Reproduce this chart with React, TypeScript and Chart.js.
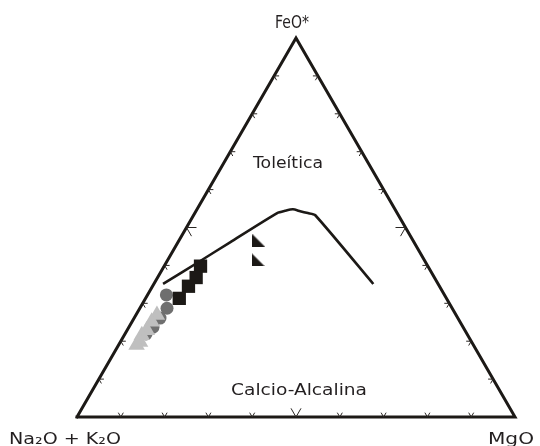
import { useEffect, useRef } from 'react';
import { Chart, registerables } from 'chart.js';

Chart.register(...registerables);

// Vertex and field labels
const vertexLabels = ['Na₂O + K₂O', 'FeO*', 'MgO'];
const fieldLabels = ['Toleítica', 'Calcio-Alcalina'];
const tickPercents = [10, 20, 30, 40, 50, 60, 70, 80, 90];

// Tholeiitic / calc-alkaline boundary (A = Na2O+K2O, F = FeO*, M = MgO, %)
const boundaryA = [62.8, 51.4, 42.0, 27.4, 25.3, 23.3, 21.9, 20.4, 19.0, 14.8];
const boundaryF = [35.1, 41.1, 46.1, 53.8, 54.4, 54.8, 54.3, 53.8, 53.3, 35.1];
const boundaryM = [2.1, 7.5, 11.9, 18.8, 20.3, 21.9, 23.8, 25.8, 27.7, 50.1];

// Black squares
const squaresA = [51.9, 54.4, 57.3, 61.0];
const squaresF = [39.8, 36.8, 34.5, 31.3];
const squaresM = [8.3, 8.8, 8.2, 7.7];

// Dark grey circles
const circlesA = [63.5, 65.1, 68.0, 70.8, 73.3];
const circlesF = [32.2, 28.7, 26.1, 23.7, 21.9];
const circlesM = [4.3, 6.2, 5.9, 5.5, 4.8];

// Light grey triangles
const trianglesA = [68.3, 70.4, 72.6, 74.4, 75.7, 76.9];
const trianglesF = [26.9, 25.1, 22.9, 21.6, 19.8, 19.0];
const trianglesM = [4.8, 4.5, 4.5, 4.0, 4.5, 4.1];

// Black half-squares (right triangles)
const halfSquaresA = [35.2, 37.9];
const halfSquaresF = [46.5, 41.5];
const halfSquaresM = [18.3, 20.6];

// Triangle frame vertices (A, M, F, back to A)
const frameA = [100, 0, 0, 100];
const frameF = [0, 0, 100, 0];
const frameM = [0, 100, 0, 0];

const H = Math.sqrt(3) / 2;

function toXY(a: number, f: number, m: number) {
  const s = a + f + m;
  return { x: (m + f / 2) / s, y: (f / s) * H };
}

function series(A: number[], F: number[], M: number[]) {
  return A.map((a, i) => toXY(a, F[i], M[i]));
}

function makeHalfSquare(): HTMLCanvasElement {
  const c = document.createElement('canvas');
  c.width = 13;
  c.height = 13;
  const g = c.getContext('2d')!;
  g.fillStyle = '#1c1916';
  g.beginPath();
  g.moveTo(0, 0);
  g.lineTo(0, 13);
  g.lineTo(13, 13);
  g.closePath();
  g.fill();
  return c;
}

const overlayPlugin = {
  id: 'ternaryOverlay',
  afterDatasetsDraw(chart: any) {
    const { ctx, scales } = chart;
    const xs = scales.x;
    const ys = scales.y;
    const P = (a: number, f: number, m: number) => {
      const p = toXY(a, f, m);
      return [xs.getPixelForValue(p.x), ys.getPixelForValue(p.y)];
    };
    ctx.save();
    ctx.strokeStyle = '#2a2623';
    ctx.lineWidth = 1;
    const chevron = (pt: number[], d1: number[], d2: number[], len: number) => {
      ctx.beginPath();
      ctx.moveTo(pt[0] + d1[0] * len, pt[1] + d1[1] * len);
      ctx.lineTo(pt[0], pt[1]);
      ctx.lineTo(pt[0] + d2[0] * len, pt[1] + d2[1] * len);
      ctx.stroke();
    };
    tickPercents.forEach((t) => {
      const len = t === 50 ? 10 : 5;
      chevron(P(100 - t, 0, t), [-0.5, -H], [0.5, -H], len);
      chevron(P(100 - t, t, 0), [1, 0], [0.5, H], len);
      chevron(P(0, t, 100 - t), [-1, 0], [-0.5, H], len);
    });

    const label = (text: string, cx: number, baseline: number, width: number, size: number) => {
      ctx.save();
      ctx.font = `${size}px "DejaVu Sans", sans-serif`;
      ctx.fillStyle = '#231f20';
      ctx.textAlign = 'center';
      ctx.textBaseline = 'alphabetic';
      const w = ctx.measureText(text).width;
      ctx.translate(cx, baseline);
      ctx.scale(width / w, 1);
      ctx.fillText(text, 0, 0);
      ctx.restore();
    };
    const [ax, ay] = P(100, 0, 0);
    const [fx, fy] = P(0, 100, 0);
    const [mx, my] = P(0, 0, 100);
    label(vertexLabels[1], fx - 4, fy - 10, 34, 17);
    label(vertexLabels[0], ax - 12, ay + 27, 112, 16);
    label(vertexLabels[2], mx - 4, my + 27, 46, 16);
    label(fieldLabels[0], fx - 8, fy + 130, 70, 16);
    label(fieldLabels[1], fx + 3, ay - 22, 136, 16);
    ctx.restore();
  },
};

export default function App() {
  const ref = useRef<HTMLCanvasElement | null>(null);
  useEffect(() => {
    if (!ref.current) return;
    const chart = new Chart(ref.current, {
      type: 'scatter',
      data: {
        datasets: [
          {
            label: 'frame',
            data: series(frameA, frameF, frameM),
            showLine: true,
            borderColor: '#1c1916',
            borderWidth: 3,
            borderJoinStyle: 'miter',
            borderCapStyle: 'square',
            pointRadius: 0,
            clip: false,
            order: 0,
          } as any,
          {
            label: 'boundary',
            data: series(boundaryA, boundaryF, boundaryM),
            showLine: true,
            borderColor: '#1c1916',
            borderWidth: 2.6,
            pointRadius: 0,
            tension: 0.2,
            clip: false,
            order: 1,
          } as any,
          {
            label: 'triangles',
            data: series(trianglesA, trianglesF, trianglesM),
            pointStyle: 'triangle',
            pointRadius: 9.5,
            backgroundColor: '#bfbfbf',
            borderColor: '#bfbfbf',
            borderWidth: 0,
            clip: false,
            order: 2,
          },
          {
            label: 'halfSquares',
            data: series(halfSquaresA, halfSquaresF, halfSquaresM),
            pointStyle: makeHalfSquare(),
            pointRadius: 7,
            clip: false,
            order: 2,
          } as any,
          {
            label: 'squares',
            data: series(squaresA, squaresF, squaresM),
            pointStyle: 'rect',
            pointRadius: 9.4,
            backgroundColor: '#1c1916',
            borderColor: '#1c1916',
            borderWidth: 0,
            clip: false,
            order: 3,
          },
          {
            label: 'circles',
            data: series(circlesA, circlesF, circlesM),
            pointStyle: 'circle',
            pointRadius: 6.5,
            backgroundColor: '#6f6f6f',
            borderColor: '#6f6f6f',
            borderWidth: 0,
            clip: false,
            order: 4,
          },
        ],
      },
      options: {
        animation: false,
        responsive: false,
        devicePixelRatio: 1,
        layout: { padding: { left: 77, right: 25, top: 38, bottom: 29 } },
        plugins: { legend: { display: false }, tooltip: { enabled: false } },
        scales: {
          x: { type: 'linear', min: 0, max: 1, display: false },
          y: { type: 'linear', min: 0, max: H, display: false },
        },
      },
      plugins: [overlayPlugin],
    });
    return () => chart.destroy();
  }, []);
  return (
    <div style={{ position: 'fixed', left: 0, top: 0, width: 540, height: 446, background: '#fff' }}>
      <canvas ref={ref} width={540} height={446} style={{ display: 'block' }} />
    </div>
  );
}
